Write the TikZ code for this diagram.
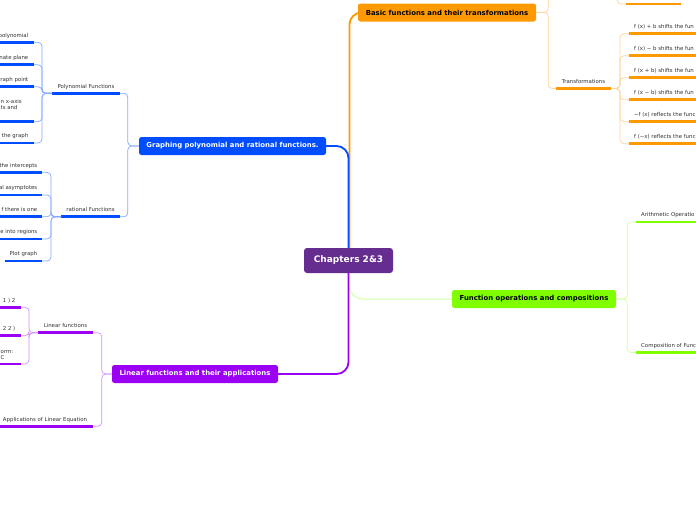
\documentclass[tikz,border=0pt]{standalone}
\usepackage{fontspec}
\setmainfont{DejaVu Sans}
\usetikzlibrary{positioning,calc}

\definecolor{rootpurple}{RGB}{102,45,145}
\definecolor{orangemain}{RGB}{255,153,0}
\definecolor{orangelight}{RGB}{255,212,155}
\definecolor{bluemain}{RGB}{0,76,255}
\definecolor{bluelight}{RGB}{135,168,255}
\definecolor{purplemain}{RGB}{155,0,245}
\definecolor{purplelight}{RGB}{212,145,255}
\definecolor{greenmain}{RGB}{128,255,0}
\definecolor{greenlight}{RGB}{210,255,165}
\definecolor{leaftext}{RGB}{51,51,51}

\begin{document}
\begin{tikzpicture}[
  x=1pt, y=-1pt,
  rootbox/.style={fill=rootpurple, text=white, rounded corners=3pt, minimum width=89pt, minimum height=25pt, inner sep=0pt, font=\fontsize{9}{10}\selectfont\bfseries},
  topic/.style={fill=#1, rounded corners=2.5pt, minimum height=18pt, inner sep=0pt, font=\fontsize{6.9}{7.9}\selectfont\bfseries},
  branch/.style={draw=#1, line width=1.8pt, rounded corners=12pt},
  twig/.style={draw=#1, line width=0.7pt, rounded corners=4pt},
  uline/.style={draw=#1, line width=2.8pt},
  leaf/.style={font=\fontsize{5.4}{6}\selectfont, text=leaftext, inner sep=0pt}
]

  % Canvas
  \useasboundingbox (0,0) rectangle (696,520);
  \clip (0,0) rectangle (696,520);
  \fill [white] (0,0) rectangle (696,520);

  % Central topic and main topics
  \node (chapters) [rootbox] at (348.5,260.5) {Chapters 2\&3};
  \node (basic) [topic=orangemain, minimum width=178pt] at (447,12.5) {Basic functions and their transformations};
  \node (graph) [topic=bluemain, text=white, minimum width=187pt] at (232.5,146) {Graphing polynomial and rational functions.};
  \node (linear) [topic=purplemain, text=white, minimum width=166pt] at (195,374) {Linear functions and their applications};
  \node (funcop) [topic=greenmain, minimum width=164pt] at (534,299) {Function operations and compositions};

  % Main branches
  \draw [branch=orangemain] ([xshift=1pt]chapters.north) |- (basic.west);
  \draw [branch=bluemain] (graph.east) -| (chapters.north);
  \draw [branch=greenlight, line width=1pt, rounded corners=15pt] (chapters.south) |- (funcop.west);
  \draw [branch=purplemain] (chapters.south) |- (linear.east);

  % Basic functions: subtopic above the top edge
  \coordinate (bhid) at (556,-30);
  \draw [twig=orangelight] (basic.east) -- ++(12,0) |- (bhid);
  \coordinate (hidpar) at (609,-30);
  \coordinate (top-l) at (626,4);
  \coordinate (top-r) at (681,4);
  \draw [twig=orangelight] (hidpar) -- ++(8,0) |- (top-l);
  \draw [uline=orangemain] (top-l) -- (top-r);

  % Transformations
  \coordinate (tr-l) at (556,88.5);
  \coordinate (tr-r) at (611,88.5);
  \draw [twig=orangelight] (basic.east) -- ++(12,0) |- (tr-l);
  \draw [uline=orangemain] (tr-l) -- (tr-r);
  \node (tr) [leaf, anchor=base] at (583.5,83.2) {Transformations};
  \foreach \y/\t [count=\i] in {33.7/{f (x) + b shifts the fun}, 55.7/{f (x) − b shifts the fun},
      77.7/{f (x + b) shifts the fun}, 99.7/{f (x − b) shifts the fun},
      121.7/{−f (x) reflects the func}, 143.7/{f (−x) reflects the func}} {
    \coordinate (tc\i-l) at (629,\y);
    \coordinate (tc\i-r) at (700,\y);
    \draw [twig=orangelight] (tr-r) -- ++(9,0) |- (tc\i-l);
    \draw [uline=orangemain] (tc\i-l) -- (tc\i-r);
    \node (tc\i) [leaf, anchor=base west] at (634,\y-5.3) {\t};
  }

  % Function operations
  \coordinate (ar-l) at (636,222);
  \coordinate (ar-r) at (700,222);
  \draw [twig=greenlight] (funcop.east) -- ++(11,0) |- (ar-l);
  \draw [uline=greenmain] (ar-l) -- (ar-r);
  \node (ar) [leaf, anchor=base west] at (641,216.7) {Arithmetic Operatio};
  \coordinate (co-l) at (636,352.5);
  \coordinate (co-r) at (700,352.5);
  \draw [twig=greenlight] (funcop.east) -- ++(11,0) |- (co-l);
  \draw [uline=greenmain] (co-l) -- (co-r);
  \node (co) [leaf, anchor=base west] at (641,347.2) {Composition of Func};

  % Polynomial Functions
  \coordinate (poly-l) at (52,93.3);
  \coordinate (poly-r) at (120,93.3);
  \draw [twig=bluelight] (graph.west) -- ++(-11,0) |- (poly-r);
  \draw [uline=bluemain] (poly-l) -- (poly-r);
  \node (poly) [leaf, anchor=base] at (86,88) {Polynomial Functions};
  \foreach \y/\t [count=\i] in {42.3/polynomial, 64.7/nate plane, 86.7/raph point, 143/the graph} {
    \coordinate (pc\i-l) at (-5,\y);
    \coordinate (pc\i-r) at (33.5,\y);
    \draw [twig=bluelight] (poly-l) -- ++(-10,0) |- (pc\i-r);
    \draw [uline=bluemain] (pc\i-l) -- (pc\i-r);
    \node (pc\i) [leaf, anchor=base east] at (28.5,\y-5.3) {\t};
  }
  \coordinate (pcx-l) at (-5,121.7);
  \coordinate (pcx-r) at (33.5,121.7);
  \draw [twig=bluelight] (poly-l) -- ++(-10,0) |- (pcx-r);
  \draw [uline=bluemain] (pcx-l) -- (pcx-r);
  \node (pcx) [leaf, align=left, anchor=base west] at (0.5,109.8) {n x-axis\\ts and};

  % rational Functions
  \coordinate (rat-l) at (61,216.8);
  \coordinate (rat-r) at (120,216.8);
  \draw [twig=bluelight] (graph.west) -- ++(-11,0) |- (rat-r);
  \draw [uline=bluemain] (rat-l) -- (rat-r);
  \node (rat) [leaf, anchor=base] at (90.5,211.5) {rational Functions};
  \foreach \y/\t [count=\i] in {172.3/the intercepts, 195/al asymptotes, 216.8/f there is one, 239/e into regions} {
    \coordinate (rc\i-l) at (-5,\y);
    \coordinate (rc\i-r) at (42.3,\y);
    \draw [twig=bluelight] (rat-l) -- ++(-10,0) |- (rc\i-r);
    \draw [uline=bluemain] (rc\i-l) -- (rc\i-r);
    \node (rc\i) [leaf, anchor=base east] at (37.5,\y-5.3) {\t};
  }
  \coordinate (plot-l) at (4.5,261);
  \coordinate (plot-r) at (42.3,261);
  \draw [twig=bluelight] (rat-l) -- ++(-10,0) |- (plot-r);
  \draw [uline=bluemain] (plot-l) -- (plot-r);
  \node (plot) [leaf, anchor=base] at (23.5,255.7) {Plot graph};

  % Linear functions
  \coordinate (lf-l) at (38,332.7);
  \coordinate (lf-r) at (93,332.7);
  \draw [twig=purplelight] (linear.west) -- ++(-10,0) |- (lf-r);
  \draw [uline=purplemain] (lf-l) -- (lf-r);
  \node (lf) [leaf, anchor=base] at (65.5,327.4) {Linear functions};
  \foreach \y/\t [count=\i] in {307.3/{1 ) 2}, 335.7/{2 2 )}} {
    \coordinate (lc\i-l) at (-5,\y);
    \coordinate (lc\i-r) at (20.7,\y);
    \draw [twig=purplelight] (lf-l) -- ++(-9,0) |- (lc\i-r);
    \draw [uline=purplemain] (lc\i-l) -- (lc\i-r);
    \node (lc\i) [leaf, anchor=base east] at (15.5,\y-5.3) {\t};
  }
  \coordinate (lcx-l) at (-5,364);
  \coordinate (lcx-r) at (20.7,364);
  \draw [twig=purplelight] (lf-l) -- ++(-9,0) |- (lcx-r);
  \draw [uline=purplemain] (lcx-l) -- (lcx-r);
  \node (lcx) [leaf, align=left, anchor=base west] at (0.5,359.5) {orm:\\C};

  % Applications
  \coordinate (ap-l) at (-5,426.3);
  \coordinate (ap-r) at (93,426.3);
  \draw [twig=purplelight] (linear.west) -- ++(-10,0) |- (ap-r);
  \draw [uline=purplemain] (ap-l) -- (ap-r);
  \node (ap) [leaf, anchor=base] at (45,421) {Applications of Linear Equation};

\end{tikzpicture}
\end{document}
